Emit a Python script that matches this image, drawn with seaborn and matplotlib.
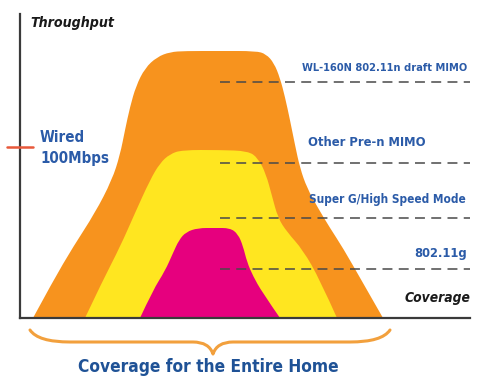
import numpy as np
import pandas as pd
import matplotlib
matplotlib.use("Agg")
import matplotlib.pyplot as plt
from matplotlib.path import Path
from matplotlib.patches import PathPatch
import seaborn as sns

# Coverage / throughput outlines of each wireless band (arbitrary units,
# coverage runs 0..450, throughput 0..304)
mimo_cov = [13, 33, 53, 75, 92, 100, 105, 110, 116, 125, 137, 150, 165, 200, 236, 246, 254, 260, 265, 270, 275, 280, 287, 298, 310, 323, 343, 363]
mimo_thr = [0, 37, 71, 105, 138, 163, 188, 211, 232, 250, 261, 266, 267, 267, 267, 264, 255, 240, 221, 198, 173, 150, 130, 110, 90, 70, 35, 0]

pren_cov = [65, 83, 100, 115, 130, 140, 150, 162, 200, 228, 238, 246, 252, 258, 267, 283, 300, 317]
pren_thr = [0, 38, 71, 105, 138, 155, 164, 168, 168, 167, 160, 144, 122, 100, 86, 68, 38, 0]

g_cov = [120, 133, 145, 153, 159, 166, 178, 195, 210, 218, 223, 227, 233, 242, 260]
g_thr = [0, 28, 47, 65, 78, 86, 90, 90, 90, 84, 72, 56, 42, 26, 0]

band_colors = ["#F7931E", "#FFE620", "#E6007E"]

# Reference levels for each standard
level_names = ["WL-160N 802.11n draft MIMO", "Other Pre-n MIMO",
               "Super G/High Speed Mode", "802.11g"]
level_thr = [236, 155, 100, 49]
level_start, level_end = 200, 450

wired_thr = 171

sns.set_theme(style="white")
font = ["DejaVu Sans"]
plt.rcParams["font.family"] = font

W, H = 481, 385
fig = plt.figure(figsize=(W / 100, H / 100), dpi=100)
fig.patch.set_facecolor("white")
ax = fig.add_axes([20 / W, (H - 318) / H, 450 / W, 304 / H])
ax.set_xlim(0, 450)
ax.set_ylim(0, 304)
ax.set_facecolor("white")
ax.set_xticks([])
ax.set_yticks([])
for side in ["top", "right"]:
    ax.spines[side].set_visible(False)
for side in ["left", "bottom"]:
    ax.spines[side].set_color("#3a3a3a")
    ax.spines[side].set_linewidth(1.6)
    ax.spines[side].set_zorder(6)


def smooth_band(cov, thr):
    """Closed smooth outline through the band points (quadratic Beziers)."""
    pts = np.column_stack([cov, thr]).astype(float)
    verts = [pts[0]]
    codes = [Path.MOVETO]
    for i in range(1, len(pts) - 1):
        mid = (pts[i] + pts[i + 1]) / 2 if i < len(pts) - 2 else pts[i + 1]
        verts += [pts[i], mid]
        codes += [Path.CURVE3, Path.CURVE3]
    verts.append(pts[0])
    codes.append(Path.CLOSEPOLY)
    return Path(verts, codes)


for (cov, thr), col, z in zip([(mimo_cov, mimo_thr), (pren_cov, pren_thr), (g_cov, g_thr)],
                              band_colors, [1, 2, 3]):
    ax.add_patch(PathPatch(smooth_band(cov, thr), facecolor=col, edgecolor="none", zorder=z))

# Dashed reference levels
levels = pd.DataFrame({
    "coverage": [level_start, level_end] * len(level_thr),
    "throughput": np.repeat(level_thr, 2),
    "standard": np.repeat(level_names, 2),
})
sns.lineplot(data=levels, x="coverage", y="throughput", units="standard", estimator=None,
             color="#4a4a4a", lw=1.3, dashes=False, ax=ax, zorder=4, alpha=0.85)
for line in ax.lines:
    line.set_dashes([5.5, 3.5])
ax.set_xlabel("")
ax.set_ylabel("")

cond = dict(family=font, fontstretch="condensed", fontweight="bold")
blue = "#2B5BA8"
label_kw = dict(color=blue, zorder=5, **cond)
ax.text(447, level_thr[0] + 14, level_names[0], ha="right", va="center", fontsize=7.9, **label_kw)
ax.text(288, level_thr[1] + 20, level_names[1], ha="left", va="center", fontsize=9.3, **label_kw)
ax.text(446, level_thr[2] + 19, level_names[2], ha="right", va="center", fontsize=8.5, **label_kw)
ax.text(447, level_thr[3] + 16, level_names[3], ha="right", va="center", fontsize=9.3, **label_kw)

# Axis titles
ax.text(10, 295, "Throughput", ha="left", va="center", fontsize=10.2,
        fontstyle="italic", color="#1a1a1a", **cond)
ax.text(450, 20, "Coverage", ha="right", va="center", fontsize=9.9,
        fontstyle="italic", color="#1a1a1a", **cond)

# Wired reference mark
ax.plot([-13, 13], [wired_thr, wired_thr], color="#E8583A", lw=1.8, clip_on=False, zorder=7)
ax.text(20, wired_thr + 10, "Wired", ha="left", va="center", color=blue, fontsize=10.8, **cond)
ax.text(20, wired_thr - 11, "100Mbps", ha="left", va="center", color=blue, fontsize=10.8, **cond)

# Curly brace under the coverage axis
bx0, bx1, bmid = 10, 370, 193
by_end, by_mid, by_tip = -12, -24, -36
brace = Path(
    [(bx0, by_end), (bx0 + 8, by_mid), (bx0 + 40, by_mid), (bmid - 20, by_mid),
     (bmid - 4, by_mid), (bmid, by_tip),
     (bmid + 4, by_mid), (bmid + 20, by_mid), (bx1 - 40, by_mid), (bx1 - 8, by_mid), (bx1, by_end)],
    [Path.MOVETO, Path.CURVE3, Path.CURVE3, Path.LINETO,
     Path.CURVE3, Path.CURVE3,
     Path.CURVE3, Path.CURVE3, Path.LINETO, Path.CURVE3, Path.CURVE3])
ax.add_patch(PathPatch(brace, facecolor="none", edgecolor="#F2A03D", lw=2.2,
                       clip_on=False, capstyle="round", joinstyle="round"))

ax.text(188, -49, "Coverage for the Entire Home", ha="center", va="center",
        color="#1F5296", fontsize=12.4, **cond)

fig.savefig("out.png", dpi=100, facecolor="white")
